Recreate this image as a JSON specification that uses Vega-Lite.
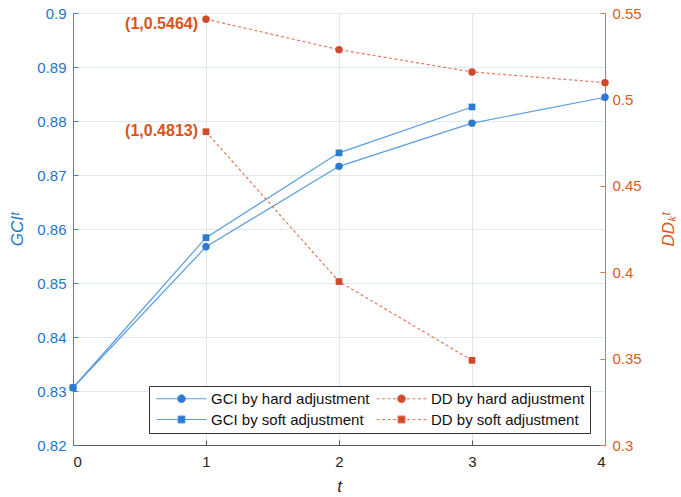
{
  "$schema": "https://vega.github.io/schema/vega-lite/v6.json",
  "width": 532,
  "height": 432,
  "autosize": {"type": "none"},
  "padding": {"left": 73, "top": 13, "right": 76, "bottom": 52},
  "background": "white",
  "config": {
    "font": "Liberation Sans",
    "view": {"stroke": "#555555", "strokeWidth": 1},
    "axis": {"labelFont": "Liberation Sans", "titleFont": "Liberation Sans"},
    "legend": {
      "title": null,
      "orient": "none",
      "legendX": 76,
      "legendY": 373,
      "direction": "vertical",
      "columns": 2,
      "columnPadding": 4,
      "rowPadding": 5,
      "padding": 5,
      "fillColor": "white",
      "strokeColor": "#333333",
      "labelFontSize": 15,
      "labelFont": "Liberation Sans",
      "labelColor": "#111111",
      "labelOffset": 42,
      "symbolSize": 100,
      "symbolStrokeWidth": 1,
      "symbolOpacity": 1,
      "labelLimit": 300
    }
  },
  "data": {
    "values": [
      {"t": 0, "series": "GCI by hard adjustment", "metric": "GCI", "kind": "hard", "value": 0.8306},
      {"t": 1, "series": "GCI by hard adjustment", "metric": "GCI", "kind": "hard", "value": 0.8567},
      {"t": 2, "series": "GCI by hard adjustment", "metric": "GCI", "kind": "hard", "value": 0.8716},
      {"t": 3, "series": "GCI by hard adjustment", "metric": "GCI", "kind": "hard", "value": 0.8796},
      {"t": 4, "series": "GCI by hard adjustment", "metric": "GCI", "kind": "hard", "value": 0.8844},
      {"t": 0, "series": "GCI by soft adjustment", "metric": "GCI", "kind": "soft", "value": 0.8306},
      {"t": 1, "series": "GCI by soft adjustment", "metric": "GCI", "kind": "soft", "value": 0.8584},
      {"t": 2, "series": "GCI by soft adjustment", "metric": "GCI", "kind": "soft", "value": 0.8741},
      {"t": 3, "series": "GCI by soft adjustment", "metric": "GCI", "kind": "soft", "value": 0.8826},
      {"t": 1, "series": "DD by hard adjustment", "metric": "DD", "kind": "hard", "value": 0.5464, "label": "(1,0.5464)"},
      {"t": 2, "series": "DD by hard adjustment", "metric": "DD", "kind": "hard", "value": 0.5288},
      {"t": 3, "series": "DD by hard adjustment", "metric": "DD", "kind": "hard", "value": 0.5159},
      {"t": 4, "series": "DD by hard adjustment", "metric": "DD", "kind": "hard", "value": 0.5097},
      {"t": 1, "series": "DD by soft adjustment", "metric": "DD", "kind": "soft", "value": 0.4813, "label": "(1,0.4813)"},
      {"t": 2, "series": "DD by soft adjustment", "metric": "DD", "kind": "soft", "value": 0.3946},
      {"t": 3, "series": "DD by soft adjustment", "metric": "DD", "kind": "soft", "value": 0.3490}
    ]
  },
  "encoding": {
    "x": {
      "field": "t",
      "type": "quantitative",
      "scale": {"domain": [0, 4], "nice": false, "zero": false},
      "axis": {
        "values": [0, 1, 2, 3, 4],
        "format": "d",
        "title": "t",
        "titleFontStyle": "italic",
        "titleFontWeight": "normal",
        "titleFontSize": 17,
        "titleColor": "#262626",
        "titlePadding": 9,
        "labelFontSize": 15,
        "labelColor": "#262626",
        "labelPadding": 14,
        "tickSize": -5,
        "tickColor": "#555555",
        "domainColor": "#555555",
        "grid": true,
        "gridColor": "#e4e4e4",
        "gridWidth": 1
      }
    }
  },
  "layer": [
    {
      "transform": [{"filter": "datum.metric === 'GCI'"}],
      "encoding": {
        "y": {
          "field": "value",
          "type": "quantitative",
          "scale": {"domain": [0.82, 0.9], "nice": false, "zero": false},
          "axis": {
            "orient": "left",
            "values": [0.82, 0.83, 0.84, 0.85, 0.86, 0.87, 0.88, 0.89, 0.9],
            "format": ".2~f",
            "title": "GCIᵗ",
            "titleFontStyle": "italic",
            "titleFontWeight": "normal",
            "titleFontSize": 17,
            "titleColor": "#1f75c8",
            "titlePadding": 10,
            "labelFontSize": 15,
            "labelColor": "#1f75c8",
            "labelPadding": 12,
            "tickSize": -5,
            "tickColor": "#3a86d2",
            "domainColor": "#3a86d2",
            "grid": true,
            "gridColor": "#dde9f5",
            "gridWidth": 1
          }
        }
      },
      "layer": [
        {
          "mark": {"type": "line", "color": "#5a9de0", "strokeWidth": 1.2},
          "encoding": {"detail": {"field": "series"}}
        },
        {
          "transform": [{"filter": "datum.kind === 'hard'"}],
          "mark": {"type": "point", "filled": true, "opacity": 1, "size": 55, "shape": "circle", "color": "#2a7ad0"}
        },
        {
          "transform": [{"filter": "datum.kind === 'soft'"}],
          "mark": {"type": "point", "filled": true, "opacity": 1, "size": 45, "shape": "square", "color": "#2a7ad0"}
        },
        {
          "mark": {"type": "point", "filled": true, "opacity": 0, "strokeWidth": 1},
          "encoding": {
            "fill": {
              "field": "series",
              "type": "nominal",
              "scale": {
                "domain": ["GCI by hard adjustment", "GCI by soft adjustment", "DD by hard adjustment", "DD by soft adjustment"],
                "range": ["#2a7ad0", "#2a7ad0", "#d24a2a", "#d24a2a"]
              }
            },
            "stroke": {
              "field": "series",
              "type": "nominal",
              "scale": {
                "domain": ["GCI by hard adjustment", "GCI by soft adjustment", "DD by hard adjustment", "DD by soft adjustment"],
                "range": ["#5a9de0", "#5a9de0", "#e57a5a", "#e57a5a"]
              }
            },
            "shape": {
              "field": "series",
              "type": "nominal",
              "scale": {
                "domain": ["GCI by hard adjustment", "GCI by soft adjustment", "DD by hard adjustment", "DD by soft adjustment"],
                "range": [
                  "M-1,0H3.2M4.8,0H9M3.2,0A0.8,0.8 0 1 1 4.8,0A0.8,0.8 0 1 1 3.2,0Z",
                  "M-1,0H3.3M4.7,0H9M3.3,-0.7H4.7V0.7H3.3Z",
                  "M-1,0H-0.4M0.1,0H0.7M1.2,0H1.8M2.3,0H2.9M5.1,0H5.7M6.2,0H6.8M7.3,0H7.9M8.4,0H9M3.2,0A0.8,0.8 0 1 1 4.8,0A0.8,0.8 0 1 1 3.2,0Z",
                  "M-1,0H-0.4M0.1,0H0.7M1.2,0H1.8M2.3,0H2.9M5.1,0H5.7M6.2,0H6.8M7.3,0H7.9M8.4,0H9M3.3,-0.7H4.7V0.7H3.3Z"
                ]
              }
            }
          }
        }
      ]
    },
    {
      "transform": [{"filter": "datum.metric === 'DD'"}],
      "encoding": {
        "y": {
          "field": "value",
          "type": "quantitative",
          "scale": {"domain": [0.3, 0.55], "nice": false, "zero": false},
          "axis": {
            "orient": "right",
            "values": [0.3, 0.35, 0.4, 0.45, 0.5, 0.55],
            "format": ".2~f",
            "title": "DDₖᵗ",
            "titleFontStyle": "italic",
            "titleFontWeight": "normal",
            "titleFontSize": 17,
            "titleColor": "#dc5a24",
            "titlePadding": 36,
            "titleAngle": 270,
            "labelFontSize": 15,
            "labelColor": "#dc5a24",
            "labelPadding": 12,
            "tickSize": -5,
            "tickColor": "#e27448",
            "domainColor": "#e27448",
            "grid": false
          }
        }
      },
      "layer": [
        {
          "mark": {"type": "line", "color": "#e57a5a", "strokeWidth": 1.2, "strokeDash": [3, 2.5]},
          "encoding": {"detail": {"field": "series"}}
        },
        {
          "transform": [{"filter": "datum.kind === 'hard'"}],
          "mark": {"type": "point", "filled": true, "opacity": 1, "size": 55, "shape": "circle", "color": "#d24a2a"}
        },
        {
          "transform": [{"filter": "datum.kind === 'soft'"}],
          "mark": {"type": "point", "filled": true, "opacity": 1, "size": 45, "shape": "square", "color": "#d24a2a"}
        },
        {
          "transform": [{"filter": "datum.label === '(1,0.5464)'"}],
          "mark": {"type": "text", "align": "right", "baseline": "middle", "dx": -8, "dy": 5, "fontSize": 16, "fontWeight": "bold", "color": "#d9541a", "font": "Liberation Sans"},
          "encoding": {"text": {"field": "label"}}
        },
        {
          "transform": [{"filter": "datum.label === '(1,0.4813)'"}],
          "mark": {"type": "text", "align": "right", "baseline": "middle", "dx": -8, "dy": -1, "fontSize": 16, "fontWeight": "bold", "color": "#d9541a", "font": "Liberation Sans"},
          "encoding": {"text": {"field": "label"}}
        }
      ]
    }
  ],
  "resolve": {"scale": {"y": "independent"}}
}
